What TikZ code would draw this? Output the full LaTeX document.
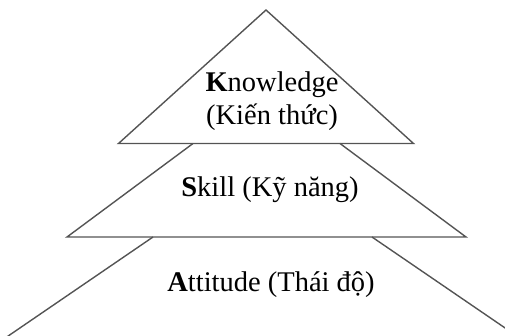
\documentclass[tikz,border=0pt]{standalone}
\usepackage{fontspec}
\setmainfont{Liberation Serif}
\usetikzlibrary{positioning}

\begin{document}
\begin{tikzpicture}[x=1pt,y=-1pt,thick,layer/.style={draw=black!67,line width=1.4pt},main label/.style={font=\fontsize{28.5}{33}\selectfont,inner sep=0pt,anchor=base}]

                \useasboundingbox (0,0) rectangle (505,335);
                \clip (0,0) rectangle (505,335);

                % top triangle
                \coordinate (1) at (266,10);
                \coordinate (2) at (118.5,143.5);
                \coordinate (3) at (413.5,143.5);
                \draw[layer] (1) -- (2) -- (3) -- cycle;

                % middle band
                \coordinate (4) at (193,143.5);
                \coordinate (5) at (67,237);
                \coordinate (6) at (466,237);
                \coordinate (7) at (340,143.5);
                \draw[layer] (4) -- (5) -- (6) -- (7);

                % bottom band, runs off the page
                \coordinate (8) at (153,237);
                \coordinate (9) at (-5,345);
                \coordinate (10) at (372,237);
                \coordinate (11) at (530,345);
                \draw[layer] (8) -- (9);
                \draw[layer] (10) -- (11);

                \node[main label] (k) at (272,91) {\textbf{K}nowledge};
                \node[main label] (kt) at (272,124) {(Kiến thức)};
                \node[main label] (s) at (270,196) {\textbf{S}kill (Kỹ năng)};
                \node[main label] (a) at (271,291) {\textbf{A}ttitude (Thái độ)};

                ;
            \end{tikzpicture}
\end{document}
